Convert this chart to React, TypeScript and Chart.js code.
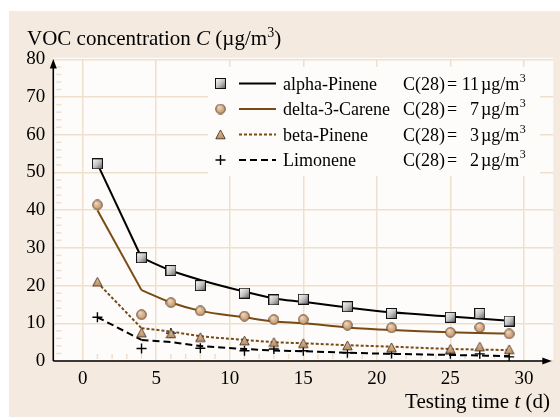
import { useEffect, useRef } from 'react';
import { Chart, registerables } from 'chart.js';

Chart.register(...registerables);

// ---- data ----
const days = [1, 4, 6, 8, 11, 13, 15, 18, 21, 25, 27, 29];
const alphaPinene = [52.3, 27.4, 24.0, 20.0, 18.0, 16.2, 16.4, 14.4, 12.6, 11.6, 12.6, 10.6];
const delta3Carene = [41.4, 12.3, 15.5, 13.3, 11.9, 11.0, 11.0, 9.5, 8.8, 7.6, 8.9, 7.2];
const betaPinene = [21.0, 7.5, 7.3, 6.3, 5.4, 5.0, 4.7, 4.1, 3.6, 3.2, 3.8, 3.1];
const limonene = [11.6, 3.3, 7.4, 3.4, 2.7, 3.2, 2.7, 2.2, 2.0, 1.9, 1.9, 1.1];

// fitted curves: a straight first segment and a smooth tail
const fitDaysEarly = [1, 4];
const fitDaysLate = [4, 6, 8, 11, 13, 15, 18, 21, 25, 29];
const alphaFitEarly = [52.3, 27.4];
const alphaFitLate = [27.4, 24.0, 21.5, 18.4, 16.6, 15.7, 14.2, 12.9, 11.8, 10.7];
const deltaFitEarly = [40.0, 18.8];
const deltaFitLate = [18.8, 15.5, 13.3, 11.6, 10.5, 10.0, 8.9, 8.2, 7.6, 7.3];
const betaFitEarly = [20.8, 8.7];
const betaFitLate = [8.7, 7.8, 6.6, 5.6, 5.0, 4.7, 4.2, 3.8, 3.2, 2.9];
const limoneneFitEarly = [11.6, 5.6];
const limoneneFitLate = [5.6, 5.0, 4.0, 3.2, 2.8, 2.6, 2.2, 1.9, 1.6, 1.3];

const seriesNames = ['alpha-Pinene', 'delta-3-Carene', 'beta-Pinene', 'Limonene'];
const c28Values = ['11', '7', '3', '2'];
const xTickValues = [0, 5, 10, 15, 20, 25, 30];
const yTickValues = [0, 10, 20, 30, 40, 50, 60, 70, 80];

// ---- styles ----
const SERIF = '"Liberation Serif", "Times New Roman", serif';
const PANEL = '#f4eadf';
const GRID = '#efdfcc';
const BROWN = '#7a4a14';
const TAN = '#cfa47c';

function makeSquare(): HTMLCanvasElement {
  const c = document.createElement('canvas');
  c.width = 11; c.height = 11;
  const g = c.getContext('2d')!;
  const gr = g.createLinearGradient(1, 1, 10, 10);
  gr.addColorStop(0, '#f6f6f6');
  gr.addColorStop(0.5, '#c4c4c4');
  gr.addColorStop(1, '#686868');
  g.fillStyle = gr;
  g.fillRect(0, 0, 11, 11);
  g.strokeStyle = '#111';
  g.lineWidth = 1;
  g.strokeRect(0.5, 0.5, 10, 10);
  return c;
}
function makeCircle(): HTMLCanvasElement {
  const c = document.createElement('canvas');
  c.width = 11; c.height = 11;
  const g = c.getContext('2d')!;
  const gr = g.createRadialGradient(4, 3.5, 0.5, 5.5, 5.5, 5.5);
  gr.addColorStop(0, '#f0d6ba');
  gr.addColorStop(1, '#b98a5e');
  g.fillStyle = gr;
  g.beginPath();
  g.arc(5.5, 5.5, 4.8, 0, Math.PI * 2);
  g.fill();
  g.strokeStyle = '#5e4128';
  g.lineWidth = 0.9;
  g.stroke();
  return c;
}
function makeTriangle(): HTMLCanvasElement {
  const c = document.createElement('canvas');
  c.width = 11; c.height = 11;
  const g = c.getContext('2d')!;
  const gr = g.createLinearGradient(5.5, 1, 5.5, 10);
  gr.addColorStop(0, '#e8c9a8');
  gr.addColorStop(1, '#b88a5e');
  g.fillStyle = gr;
  g.beginPath();
  g.moveTo(5.5, 1);
  g.lineTo(10.2, 9.8);
  g.lineTo(0.8, 9.8);
  g.closePath();
  g.fill();
  g.strokeStyle = '#4a3320';
  g.lineWidth = 0.9;
  g.stroke();
  return c;
}

function pts(xs: number[], ys: number[]) {
  return xs.map((x, i) => ({ x, y: ys[i] }));
}

export default function App() {
  const ref = useRef<HTMLCanvasElement>(null);

  useEffect(() => {
    const canvas = ref.current!;
    const square = makeSquare();
    const circle = makeCircle();
    const triangle = makeTriangle();

    const lineStyles = [
      { color: '#000', dash: [] as number[] },
      { color: BROWN, dash: [] as number[] },
      { color: BROWN, dash: [3, 2] },
      { color: '#000', dash: [7, 4] },
    ];
    const fits = [
      [alphaFitEarly, alphaFitLate],
      [deltaFitEarly, deltaFitLate],
      [betaFitEarly, betaFitLate],
      [limoneneFitEarly, limoneneFitLate],
    ];
    const measured = [alphaPinene, delta3Carene, betaPinene, limonene];
    const markers: any[] = [square, circle, triangle, 'cross'];

    const datasets: any[] = [];
    measured.forEach((vals, i) => {
      datasets.push({
        label: seriesNames[i],
        data: pts(days, vals),
        showLine: false,
        pointStyle: markers[i],
        pointRadius: 5,
        pointBorderColor: '#000',
        pointBorderWidth: 1.4,
        pointBackgroundColor: TAN,
        order: 0,
      });
    });
    fits.forEach(([early, late], i) => {
      const s = lineStyles[i];
      datasets.push({
        label: seriesNames[i] + ' fit (a)',
        data: pts(fitDaysEarly, early),
        showLine: true,
        borderColor: s.color,
        borderWidth: 2,
        borderDash: s.dash,
        pointRadius: 0,
        tension: 0,
        order: 1,
      });
      datasets.push({
        label: seriesNames[i] + ' fit (b)',
        data: pts(fitDaysLate, late),
        showLine: true,
        borderColor: s.color,
        borderWidth: 2,
        borderDash: s.dash,
        pointRadius: 0,
        cubicInterpolationMode: 'monotone',
        order: 1,
      });
    });

    const decor = {
      id: 'decor',
      beforeDraw(chart: any) {
        const { ctx, chartArea: a } = chart;
        ctx.save();
        ctx.fillStyle = '#ffffff';
        ctx.fillRect(0, 0, chart.width, chart.height);
        ctx.fillStyle = PANEL;
        ctx.fillRect(9, 11, chart.width - 9, chart.height - 11);
        ctx.fillStyle = '#fdfcfb';
        ctx.fillRect(a.left, a.top - 1.5, a.right - a.left, a.bottom - a.top + 1.5);
        ctx.restore();
      },
      beforeDatasetsDraw(chart: any) {
        const { ctx, chartArea: a, scales } = chart;
        const xs = scales.x, ys = scales.y;
        ctx.save();
        // minor ticks
        ctx.strokeStyle = GRID;
        ctx.lineWidth = 1.5;
        for (let v = 1; v <= 29; v++) {
          if (v % 5 === 0) continue;
          const px = xs.getPixelForValue(v);
          ctx.beginPath();
          ctx.moveTo(px, a.bottom - 2);
          ctx.lineTo(px, a.bottom - 7);
          ctx.stroke();
        }
        for (let v = 2; v < 80; v += 2) {
          if (v % 10 === 0) continue;
          const py = ys.getPixelForValue(v);
          ctx.beginPath();
          ctx.moveTo(a.left + 3, py);
          ctx.lineTo(a.left + 8, py);
          ctx.stroke();
        }
        // legend box
        ctx.fillStyle = '#fdfcfb';
        ctx.fillRect(208, 67, 332, 109);
        const rowsY = [83.5, 109, 134.5, 160];
        const lx = 220.5;
        rowsY.forEach((y, i) => {
          const img = [square, circle, triangle][i];
          if (img) {
            ctx.drawImage(img, lx - img.width / 2, y - img.height / 2);
          } else {
            ctx.strokeStyle = '#000';
            ctx.lineWidth = 1.4;
            ctx.beginPath();
            ctx.moveTo(lx - 5, y); ctx.lineTo(lx + 5, y);
            ctx.moveTo(lx, y - 5); ctx.lineTo(lx, y + 5);
            ctx.stroke();
          }
          const s = lineStyles[i];
          ctx.strokeStyle = s.color;
          ctx.lineWidth = 2;
          ctx.setLineDash(s.dash);
          ctx.beginPath();
          ctx.moveTo(239, y);
          ctx.lineTo(276, y);
          ctx.stroke();
          ctx.setLineDash([]);
          ctx.fillStyle = '#000';
          ctx.textBaseline = 'alphabetic';
          ctx.textAlign = 'left';
          ctx.font = `18px ${SERIF}`;
          const base = y + 6;
          ctx.fillText(seriesNames[i], 283, base);
          ctx.fillText('C(28)', 403, base);
          ctx.fillText('=', 447, base);
          ctx.textAlign = 'right';
          ctx.fillText(c28Values[i], 479, base);
          ctx.textAlign = 'left';
          ctx.fillText('\u00b5g/m', 481, base);
          const w = ctx.measureText('\u00b5g/m').width;
          ctx.font = `12px ${SERIF}`;
          ctx.fillText('3', 481 + w + 0.5, y - 2);
        });
        ctx.restore();
      },
      afterDraw(chart: any) {
        const { ctx, chartArea: a } = chart;
        ctx.save();
        // axes with arrows
        ctx.strokeStyle = '#000';
        ctx.fillStyle = '#000';
        ctx.lineWidth = 1.6;
        ctx.beginPath();
        ctx.moveTo(a.left, a.bottom);
        ctx.lineTo(a.left, a.top + 6);
        ctx.moveTo(a.left, a.bottom);
        ctx.lineTo(a.right - 7, a.bottom);
        ctx.stroke();
        ctx.beginPath();
        ctx.moveTo(a.left, a.top - 0.5);
        ctx.lineTo(a.left - 3.5, a.top + 9);
        ctx.lineTo(a.left + 3.5, a.top + 9);
        ctx.closePath();
        ctx.fill();
        ctx.beginPath();
        ctx.moveTo(a.right - 1.5, a.bottom);
        ctx.lineTo(a.right - 11, a.bottom - 3.5);
        ctx.lineTo(a.right - 11, a.bottom + 3.5);
        ctx.closePath();
        ctx.fill();
        // titles
        ctx.textBaseline = 'alphabetic';
        ctx.textAlign = 'left';
        const reg = `21px ${SERIF}`;
        const ital = `italic 21px ${SERIF}`;
        const sup = `14px ${SERIF}`;
        let x = 27;
        const yb = 45;
        const parts: [string, string, number][] = [
          ['VOC concentration ', reg, 0],
          ['C', ital, 0],
          [' (\u00b5g/m', reg, 0],
          ['3', sup, -8],
          [')', reg, 0],
        ];
        parts.forEach(([t, f, dy]) => {
          ctx.font = f;
          ctx.fillText(t, x, yb + dy);
          x += ctx.measureText(t).width;
        });
        const xparts: [string, string][] = [
          ['Testing time ', reg],
          ['t', ital],
          [' (d)', reg],
        ];
        let total = 0;
        xparts.forEach(([t, f]) => { ctx.font = f; total += ctx.measureText(t).width; });
        let xx = 550 - total;
        xparts.forEach(([t, f]) => {
          ctx.font = f;
          ctx.fillText(t, xx, 408);
          xx += ctx.measureText(t).width;
        });
        ctx.restore();
      },
    };

    const chart = new Chart(canvas, {
      type: 'scatter',
      data: { datasets },
      options: {
        animation: false,
        responsive: false,
        devicePixelRatio: 1,
        layout: { padding: { left: 0, top: 59.4, right: 6.7, bottom: 0 } },
        plugins: { legend: { display: false }, tooltip: { enabled: false } },
        scales: {
          x: {
            type: 'linear',
            min: -2,
            max: 32,
            afterBuildTicks: (s: any) => { s.ticks = xTickValues.map((v) => ({ value: v })); },
            afterFit: (s: any) => { s.height = 56; },
            grid: { color: GRID, lineWidth: 1.5, drawTicks: false },
            border: { display: false },
            ticks: { color: '#000', font: { family: SERIF, size: 19 }, padding: 7, maxRotation: 0, autoSkip: false },
          },
          y: {
            type: 'linear',
            min: 0,
            max: 80,
            afterBuildTicks: (s: any) => { s.ticks = yTickValues.map((v) => ({ value: v })); },
            afterFit: (s: any) => { s.width = 53.3; },
            grid: { color: GRID, lineWidth: 1.5, drawTicks: false },
            border: { display: false },
            ticks: { color: '#000', font: { family: SERIF, size: 19 }, padding: 8, autoSkip: false },
          },
        },
      },
      plugins: [decor],
    });
    return () => chart.destroy();
  }, []);

  return (
    <div style={{ position: 'absolute', left: 0, top: 0, width: 560, height: 417 }}>
      <canvas ref={ref} width={560} height={417} />
    </div>
  );
}
